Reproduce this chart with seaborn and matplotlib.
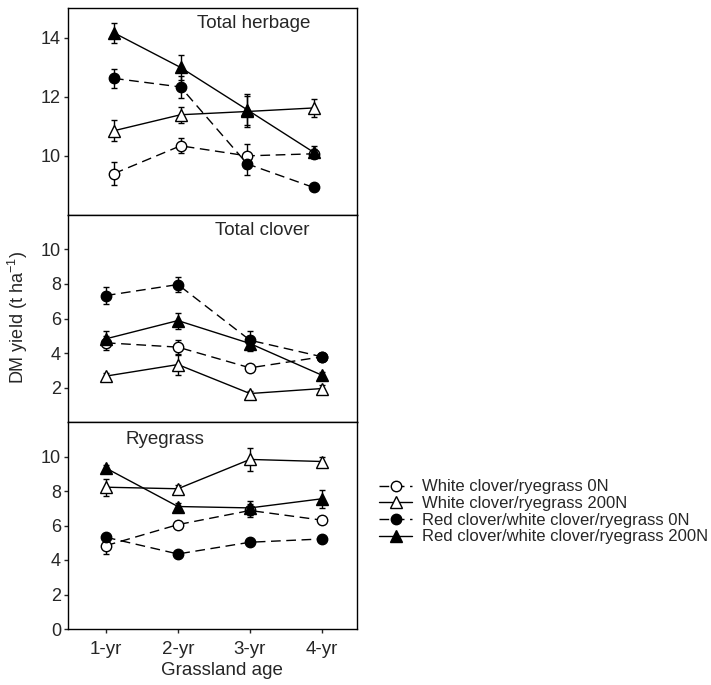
import numpy as np
import pandas as pd
import matplotlib
matplotlib.use("Agg")
import matplotlib.pyplot as plt
import seaborn as sns

ages = ["1-yr", "2-yr", "3-yr", "4-yr"]
series = ["White clover/ryegrass 0N", "White clover/ryegrass 200N",
          "Red clover/white clover/ryegrass 0N", "Red clover/white clover/ryegrass 200N"]

# Total herbage
herb_wc0 = [9.40, 10.34, 10.00, 10.07]
herb_wc200 = [10.85, 11.39, 11.50, 11.62]
herb_rc0 = [12.62, 12.33, 9.73, 8.93]
herb_rc200 = [14.16, 12.99, 11.56, 10.12]
herb_wc0_se = [0.40, 0.25, 0.40, 0.15]
herb_wc200_se = [0.36, 0.27, 0.53, 0.30]
herb_rc0_se = [0.33, 0.36, 0.37, 0.0]
herb_rc200_se = [0.34, 0.42, 0.53, 0.20]

# Total clover
clov_wc0 = [4.59, 4.34, 3.14, 3.78]
clov_wc200 = [2.66, 3.33, 1.65, 1.94]
clov_rc0 = [7.33, 7.97, 4.74, 3.78]
clov_rc200 = [4.82, 5.88, 4.55, 2.71]
clov_wc0_se = [0.40, 0.43, 0.10, 0.10]
clov_wc200_se = [0.20, 0.60, 0.15, 0.20]
clov_rc0_se = [0.50, 0.42, 0.55, 0.10]
clov_rc200_se = [0.48, 0.46, 0.43, 0.20]

# Ryegrass
rye_wc0 = [4.83, 6.05, 6.87, 6.31]
rye_wc200 = [8.22, 8.13, 9.83, 9.71]
rye_rc0 = [5.32, 4.35, 5.03, 5.22]
rye_rc200 = [9.33, 7.10, 7.02, 7.55]
rye_wc0_se = [0.48, 0.20, 0.40, 0.0]
rye_wc200_se = [0.50, 0.20, 0.65, 0.25]
rye_rc0_se = [0.10, 0.10, 0.10, 0.10]
rye_rc200_se = [0.15, 0.20, 0.40, 0.52]

panels = [
    ("Total herbage", [herb_wc0, herb_wc200, herb_rc0, herb_rc200],
     [herb_wc0_se, herb_wc200_se, herb_rc0_se, herb_rc200_se]),
    ("Total clover", [clov_wc0, clov_wc200, clov_rc0, clov_rc200],
     [clov_wc0_se, clov_wc200_se, clov_rc0_se, clov_rc200_se]),
    ("Ryegrass", [rye_wc0, rye_wc200, rye_rc0, rye_rc200],
     [rye_wc0_se, rye_wc200_se, rye_rc0_se, rye_rc200_se]),
]

sns.set_style("ticks")
plt.rcParams['font.family'] = ['Liberation Sans', 'DejaVu Sans']
plt.rcParams['font.size'] = 13
plt.rcParams['mathtext.fontset'] = 'custom'
plt.rcParams['mathtext.rm'] = 'Liberation Sans'
plt.rcParams['mathtext.default'] = 'regular'

styles = [
    dict(marker="o", mfc="white", ls=(0, (7, 4)), ms=7.5),
    dict(marker="^", mfc="white", ls="-", ms=8),
    dict(marker="o", mfc="black", ls=(0, (7, 4)), ms=7.5),
    dict(marker="^", mfc="black", ls="-", ms=8),
]

fig = plt.figure(figsize=(7.11, 6.85), dpi=100)
left, width = 68 / 711, (357 - 68) / 711
tops = [8, 215, 422]
h = 207 / 685
axes = []
for i, t in enumerate(tops):
    ax = fig.add_axes([left, 1 - (t + 207) / 685, width, h])
    axes.append(ax)

x = np.arange(len(ages))
for pi, (title, vals, ses) in enumerate(panels):
    ax = axes[pi]
    for si in range(4):
        st = styles[si]
        df = pd.DataFrame({"x": x, "y": vals[si]})
        ax.errorbar(x, vals[si], yerr=ses[si], fmt="none", ecolor="black",
                    elinewidth=1, capsize=2.5, capthick=1, zorder=2)
        sns.lineplot(data=df, x="x", y="y", ax=ax, color="black", lw=1,
                     linestyle=st["ls"], marker=st["marker"], markersize=st["ms"],
                     markerfacecolor=st["mfc"], markeredgecolor="black",
                     markeredgewidth=1, zorder=3, label=series[si] if pi == 0 else None,
                     legend=False)
    ax.set_xlabel("")
    ax.set_ylabel("")
    for sp in ax.spines.values():
        sp.set_visible(True)
        sp.set_linewidth(1)
        sp.set_color("black")
    ax.tick_params(axis="y", direction="out", length=3, width=1, labelsize=13, pad=2)
    ax.set_xticks(x)
    if pi < 2:
        ax.tick_params(axis="x", length=0, labelbottom=False)
    else:
        ax.set_xticklabels(ages)
        ax.tick_params(axis="x", direction="out", length=3, width=1, labelsize=13.5, pad=5.5)

axes[0].set_xlim(-0.69, 3.65)
axes[1].set_xlim(-0.525, 3.485)
axes[2].set_xlim(-0.525, 3.485)
axes[0].set_ylim(8, 15)
axes[0].set_yticks([10, 12, 14])
axes[1].set_ylim(0, 12)
axes[1].set_yticks([2, 4, 6, 8, 10])
axes[2].set_ylim(0, 12)
axes[2].set_yticks([0, 2, 4, 6, 8, 10])

axes[0].text(0.642, 0.965, "Total herbage", transform=axes[0].transAxes,
             ha="center", va="top", fontsize=13.5)
axes[1].text(0.672, 0.965, "Total clover", transform=axes[1].transAxes,
             ha="center", va="top", fontsize=13.5)
axes[2].text(0.2, 0.955, "Ryegrass", transform=axes[2].transAxes,
             ha="left", va="top", fontsize=13.5)

axes[2].set_xlabel("Grassland age", fontsize=13.5, labelpad=8)
axes[2].xaxis.set_label_coords((222 - 68) / 289, -0.2)
axes[2].xaxis.label.set_va("center")
fig.text(18 / 711, 1 - 318 / 685, "DM yield (t ha$^{-1}$)", rotation=90,
         ha="center", va="center", fontsize=13)

h_, l_ = axes[0].get_legend_handles_labels()
fig.legend(h_, l_, loc="center left", bbox_to_anchor=(379 / 711, 1 - 512 / 685),
           frameon=False, fontsize=12, handlelength=2.0, handletextpad=0.55,
           labelspacing=0.1, borderpad=0, borderaxespad=0)

fig.savefig("out.png", dpi=100)
